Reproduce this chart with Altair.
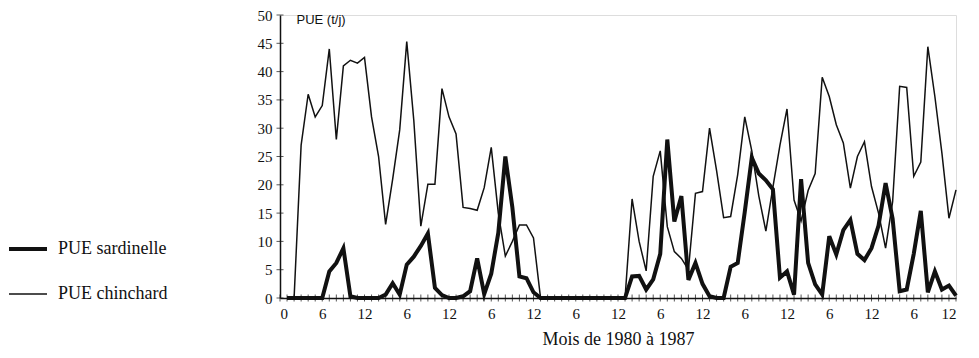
import altair as alt
import pandas as pd

months = list(range(1, 97))

sardinelle = [
    0, 0, 0, 0, 0, 0, 4.7, 6.2, 8.8, 0.3, 0, 0,
    0, 0, 0.6, 2.6, 0.6, 5.9, 7.3, 9.2, 11.4, 1.8, 0.5, 0,
    0, 0.3, 1.2, 7, 0.7, 4.3, 11.5, 25, 16, 3.8, 3.5, 1,
    0, 0, 0, 0, 0, 0, 0, 0, 0, 0, 0, 0,
    0, 3.8, 3.9, 1.5, 3.3, 7.8, 28, 13.5, 18, 3.2, 6.2, 2.5,
    0.3, 0, 0, 5.5, 6.2, 15.2, 24.8, 22, 20.8, 19.2, 3.6, 4.7,
    0.6, 21, 6.2, 2.4, 0.6, 10.9, 7.7, 12, 13.8, 7.8, 6.7, 8.8,
    12.8, 20.3, 14, 1.2, 1.5, 7.8, 15.4, 1, 4.7, 1.5, 2.2, 0.4,
]

chinchard = [
    0, 0, 27, 36, 32, 34, 44, 28, 41, 42, 41.5, 42.5,
    32, 25, 13, 21, 29.7, 45.3, 31.4, 12.7, 20.1, 20.1, 37, 32,
    29, 16, 15.8, 15.5, 19.5, 26.6, 15, 7.4, 10, 12.9, 12.9, 10.6,
    0, 0, 0, 0, 0, 0, 0, 0, 0, 0, 0, 0,
    0, 17.5, 10, 4.8, 21.5, 26, 12.6, 8.2, 7, 5, 18.5, 18.8,
    30, 22.5, 14.2, 14.4, 21.8, 32, 26, 18, 11.8, 19.6, 27, 33.4,
    17.3, 13.6, 19, 22, 39, 35.6, 30.6, 27.4, 19.4, 25, 27.6, 19.7,
    15, 8.8, 17, 37.4, 37.2, 21.5, 24, 44.4, 35.6, 25.6, 14.1, 19.1,
]

series_names = ["PUE sardinelle", "PUE chinchard"]
x_label_values = list(range(0, 97, 6))
x_minor_ticks = list(range(0, 97))
y_tick_values = list(range(0, 51, 5))

rows = []
for name, vals in zip(series_names, [sardinelle, chinchard]):
    for m, v in zip(months, vals):
        rows.append({"mois": m, "pue": v, "serie": name})
df = pd.DataFrame(rows)

serif = "Liberation Serif"

x_scale = alt.Scale(domain=[0, 96], nice=False, zero=False)
y_scale = alt.Scale(domain=[0, 50], nice=False)

x_axis = alt.Axis(values=x_label_values, title="Mois de 1980 à 1987",
                  labelExpr="datum.value == 0 ? '0' : (datum.value % 12 == 0 ? '12' : '6')",
                  ticks=False, labelPadding=8, grid=False, labelOverlap=False,
                  domainColor="#111111", domainWidth=1.5,
                  labelFont=serif, labelFontSize=15, labelColor="#111111",
                  titleFont=serif, titleFontSize=18, titleFontWeight="normal",
                  titleColor="#111111", titlePadding=9)
y_axis = alt.Axis(values=y_tick_values, title="PUE (t/j)", ticks=False,
                  labelPadding=8, grid=False, labelOverlap=False,
                  domainColor="#111111", domainWidth=1.5,
                  labelFont=serif, labelFontSize=15, labelColor="#111111",
                  titleAngle=0, titleAlign="left", titleBaseline="middle",
                  titleX=16, titleY=4, titleFont="Liberation Sans",
                  titleFontSize=13, titleFontWeight="normal", titleColor="#111111")

lines = alt.Chart(df).mark_line(color="#111111", strokeJoin="miter").encode(
    x=alt.X("mois:Q", scale=x_scale, axis=x_axis),
    y=alt.Y("pue:Q", scale=y_scale, axis=y_axis),
    strokeWidth=alt.StrokeWidth("serie:N",
                                scale=alt.Scale(domain=series_names, range=[4, 1.5]),
                                legend=alt.Legend(orient="none", legendX=-273, legendY=213,
                                                  title=None, symbolType="stroke",
                                                  symbolSize=1444, symbolStrokeColor="#111111",
                                                  labelFont=serif, labelFontSize=18,
                                                  labelColor="#111111", labelOffset=9,
                                                  rowPadding=16)),
    detail="serie:N",
    order="mois:Q",
)

xticks = alt.Chart(pd.DataFrame({"t": x_minor_ticks})).mark_tick(
    orient="vertical", size=7, thickness=1, color="#111111"
).encode(x=alt.X("t:Q", scale=x_scale, axis=x_axis),
         y=alt.YDatum(0, scale=y_scale, axis=y_axis))

yticks = alt.Chart(pd.DataFrame({"t": y_tick_values})).mark_tick(
    orient="horizontal", size=7, thickness=1, color="#111111"
).encode(y=alt.Y("t:Q", scale=y_scale, axis=y_axis),
         x=alt.XDatum(0, scale=x_scale, axis=x_axis))

chart = alt.layer(lines, xticks, yticks).properties(
    width=676, height=283,
    autosize=alt.AutoSizeParams(type="none"),
    padding={"left": 272, "top": 7, "right": 15, "bottom": 52},
).configure_view(stroke=None).configure(background="white").configure_axis(
    labelFont=serif
).configure_legend(labelFont=serif)

chart.save("out.html", embed_options={"renderer": "svg", "actions": False})
